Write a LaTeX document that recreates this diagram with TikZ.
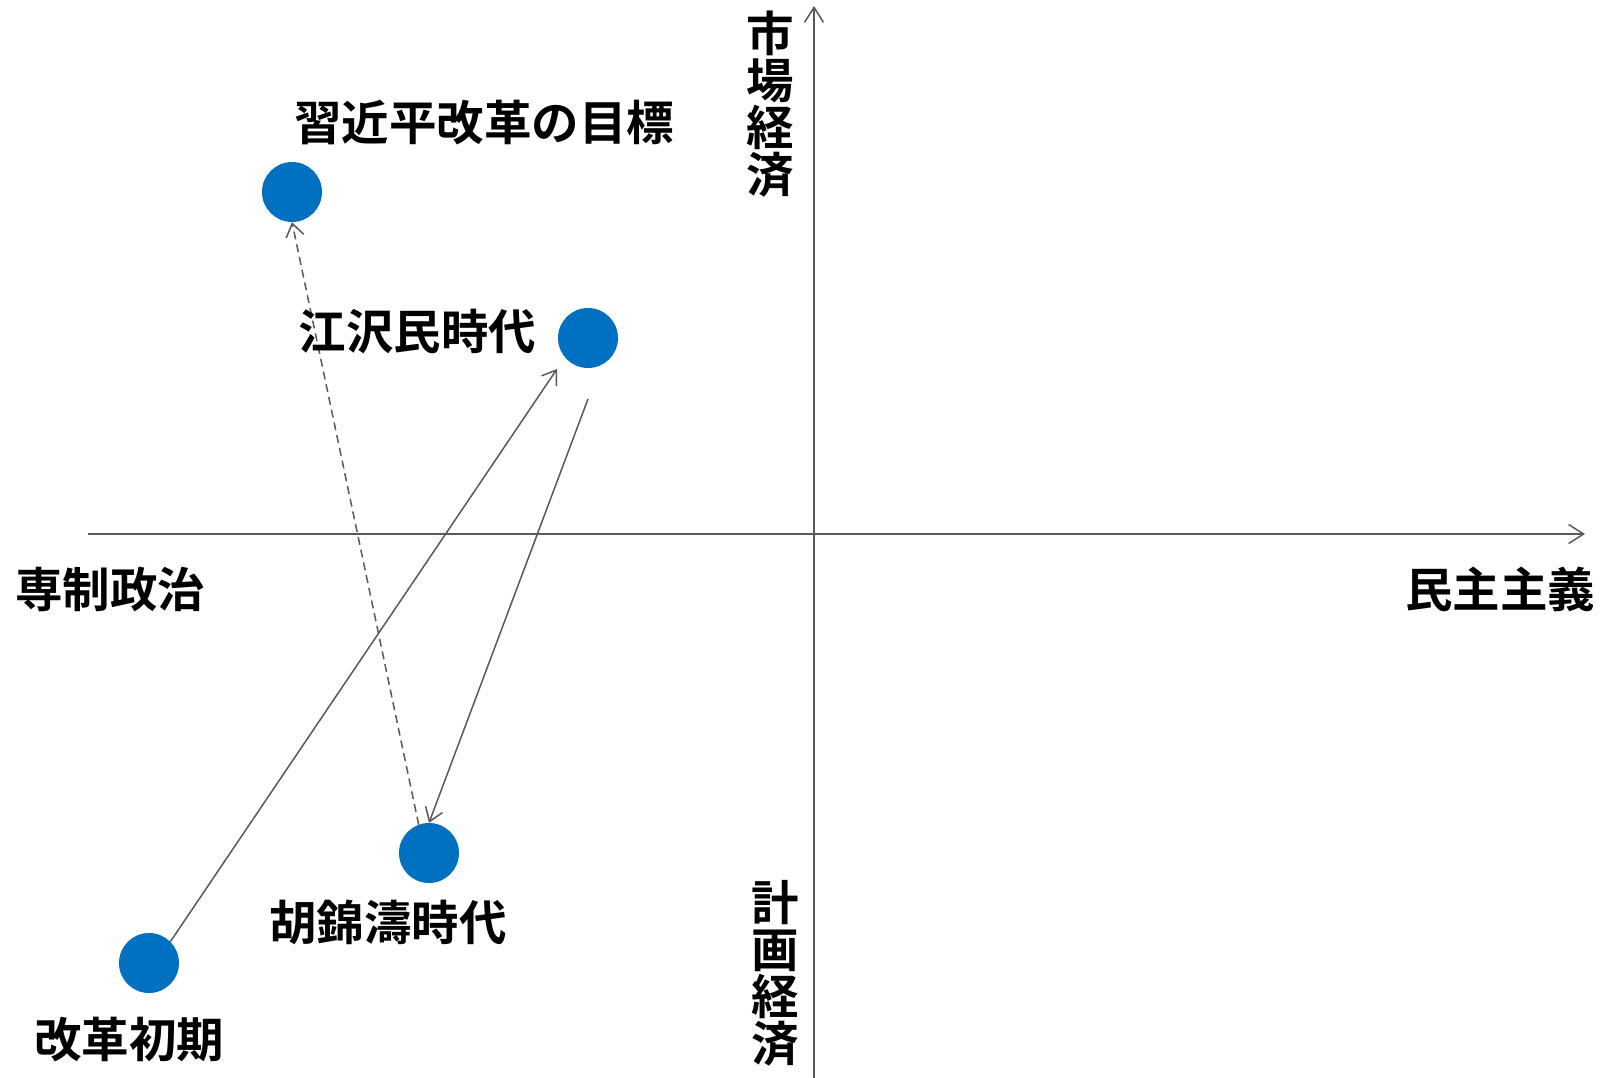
\documentclass[tikz,border=0pt]{standalone}
\usepackage{fontspec}
\newfontfamily\jpfont{Noto Sans CJK JP}[BoldFont={* Bold}]
\usetikzlibrary{arrows.meta,calc}
\definecolor{dotblue}{HTML}{0070C0}
\definecolor{axisgray}{HTML}{595959}
\begin{document}
\begin{tikzpicture}[x=1pt,y=-1pt,
  dot/.style={circle, fill=dotblue, draw=none, minimum size=60pt, inner sep=0pt},
  lbl/.style={font=\jpfont\bfseries\fontsize{47.5}{47}\selectfont, inner sep=0pt, text=black},
  axisline/.style={draw=axisgray, line width=1.5pt, -{Straight Barb[length=15pt,width=19pt]}},
  conn/.style={draw=axisgray, line width=1.5pt, -{Straight Barb[length=13pt,width=18pt]}},
  dashconn/.style={conn, dash pattern=on 8pt off 5pt}]
\useasboundingbox (0,0) rectangle (1600,1078);
% axes
\coordinate (xl) at (88,534);
\coordinate (xr) at (1585,534);
\coordinate (yb) at (814,1078);
\coordinate (yt) at (814,6);
\draw[axisline] (xl) -- (xr);
\draw[axisline] (yb) -- (yt);
% points
\node[dot] (xi) at (292,192) {};
\node[dot] (jz) at (588,338) {};
\node[dot] (hu) at (429,853) {};
\node[dot] (ck) at (149,963) {};
% connectors
\draw[conn] (ck.45) -- ($(jz.center)+(-31,31)$);
\draw[conn] ($(jz.center)+(0,61)$) -- (hu.north);
\draw[dashconn] (hu.110) -- (xi.south);
% labels
\node[lbl] (txi) at (484,123) {習近平改革の目標};
\node[lbl] (tjz) at (417.5,332) {江沢民時代};
\node[lbl] (thu) at (388,922) {胡錦濤時代};
\node[lbl] (tck) at (129,1040) {改革初期};
\node[lbl] (tl) at (110,589) {専制政治};
\node[lbl] (tr) at (1500,589) {民主主義};
\node[lbl, align=center] (tt) at (770,104) {市\\場\\経\\済};
\node[lbl, align=center] (tb) at (775,973) {計\\画\\経\\済};
\end{tikzpicture}
\end{document}
